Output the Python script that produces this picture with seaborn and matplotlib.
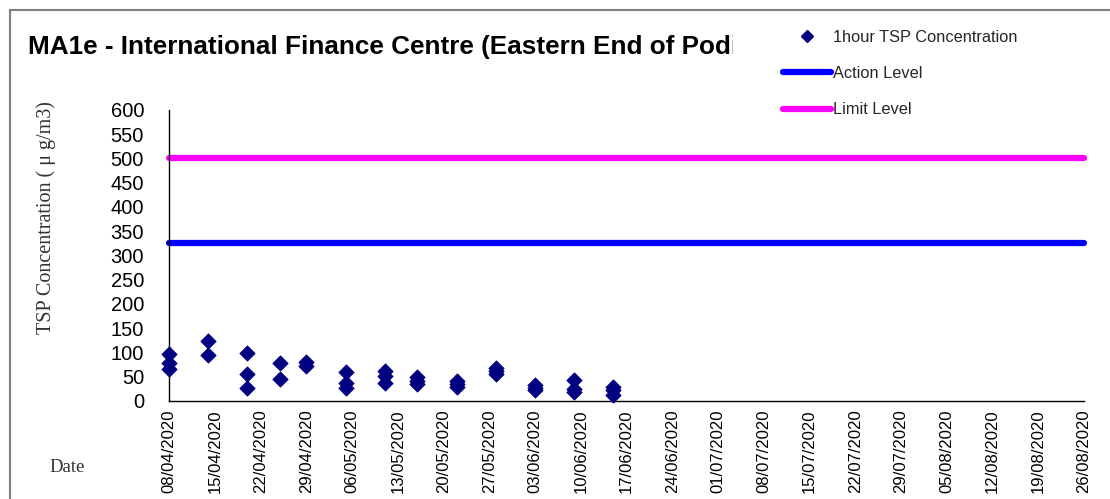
import matplotlib
matplotlib.use("Agg")
import matplotlib.pyplot as plt
import matplotlib.dates as mdates
from matplotlib.lines import Line2D
from matplotlib.transforms import Bbox
import pandas as pd
import seaborn as sns

# 1-hour TSP readings (ug/m3)
sample_dates = ["2020-04-08"] * 3 + ["2020-04-14"] * 2 + ["2020-04-20"] * 3 + \
    ["2020-04-25"] * 2 + ["2020-04-29"] * 2 + ["2020-05-05"] * 3 + \
    ["2020-05-11"] * 3 + ["2020-05-16"] * 3 + ["2020-05-22"] * 3 + \
    ["2020-05-28"] * 3 + ["2020-06-03"] * 3 + ["2020-06-09"] * 3 + ["2020-06-15"] * 3
tsp_values = [97, 79, 65,
              124, 95,
              98, 56, 27,
              78, 45,
              81, 72,
              59, 37, 27,
              62, 52, 37,
              49, 41, 35,
              42, 35, 28,
              68, 62, 55,
              33, 27, 22,
              43, 24, 19,
              28, 22, 13]
level_dates = ["2020-04-08", "2020-08-26"]
action_level = [325, 325]
limit_level = [500, 500]

df = pd.DataFrame({"date": pd.to_datetime(sample_dates), "tsp": tsp_values})
df_action = pd.DataFrame({"date": pd.to_datetime(level_dates), "value": action_level})
df_limit = pd.DataFrame({"date": pd.to_datetime(level_dates), "value": limit_level})

sns.set_theme(style="white")
plt.rcParams["font.family"] = ["Liberation Sans", "DejaVu Sans"]

fig = plt.figure(figsize=(11.1, 4.99), dpi=100)
ax = fig.add_axes([0.1523, 0.1964, 0.8243, 0.5832])

sns.lineplot(data=df_action, x="date", y="value", color="#0000FF", linewidth=4.5, ax=ax,
             clip_on=False)
sns.lineplot(data=df_limit, x="date", y="value", color="#FF00FF", linewidth=4.5, ax=ax,
             clip_on=False)
sns.scatterplot(data=df, x="date", y="tsp", marker="D", s=60, color="#000080",
                edgecolor="#000080", ax=ax, zorder=5, clip_on=False)

ax.set_ylim(0, 600)
ax.set_yticks(range(0, 601, 50))
ax.set_xlim(pd.Timestamp("2020-04-08"), pd.Timestamp("2020-08-26"))
ax.set_xticks(pd.date_range("2020-04-08", "2020-08-26", freq="7D"))
ax.xaxis.set_major_formatter(mdates.DateFormatter("%d/%m/%Y"))
ax.tick_params(axis="x", labelrotation=90, labelsize=12, direction="inout", length=8,
               width=1, colors="black", pad=2)
ax.tick_params(axis="y", labelsize=14.5, direction="inout", length=8, width=1,
               colors="black", pad=14)

for side in ["top", "right"]:
    ax.spines[side].set_visible(False)
for side in ["left", "bottom"]:
    ax.spines[side].set_color("black")
    ax.spines[side].set_linewidth(1)

ax.set_xlabel("")
ax.set_ylabel("TSP Concentration ( \u03bc g/m3)", family="Liberation Serif", fontsize=14.5,
              color="#333333")
ax.yaxis.set_label_coords(-0.124, 0.632)

title = fig.text(28 / 1110, 1 - 47 / 499,
                 "MA1e - International Finance Centre (Eastern End of Podium)",
                 fontsize=18.8, fontweight="bold", va="center", ha="left", color="black")
# the legend box hides the end of the title in the original
title.set_clip_box(Bbox.from_extents(0, 0, 733, 499))
title.set_clip_on(True)

fig.text(49 / 1110, 1 - 467 / 499, "Date", family="Liberation Serif", fontsize=13.5,
         va="center", ha="left", color="#333333")

handles = [
    Line2D([], [], marker="D", markersize=6.5, color="#000080", linestyle="none"),
    Line2D([], [], color="#0000FF", linewidth=4.5),
    Line2D([], [], color="#FF00FF", linewidth=4.5),
]
labels = ["1hour TSP Concentration", "Action Level", "Limit Level"]
leg = fig.legend(handles, labels, loc="upper left", bbox_to_anchor=(768 / 1110, 1 - 15 / 499),
                 frameon=False, fontsize=11.8, handlelength=2.95, handletextpad=0.12,
                 labelspacing=1.3, borderpad=0.4)

fig.add_artist(Line2D([10 / 1110, 1], [1 - 10 / 499, 1 - 10 / 499], color="#7f7f7f",
                      linewidth=1.5, transform=fig.transFigure))
fig.add_artist(Line2D([10 / 1110, 10 / 1110], [1 - 10 / 499, 0], color="#7f7f7f",
                      linewidth=1.5, transform=fig.transFigure))

fig.savefig("out.png", dpi=100)
